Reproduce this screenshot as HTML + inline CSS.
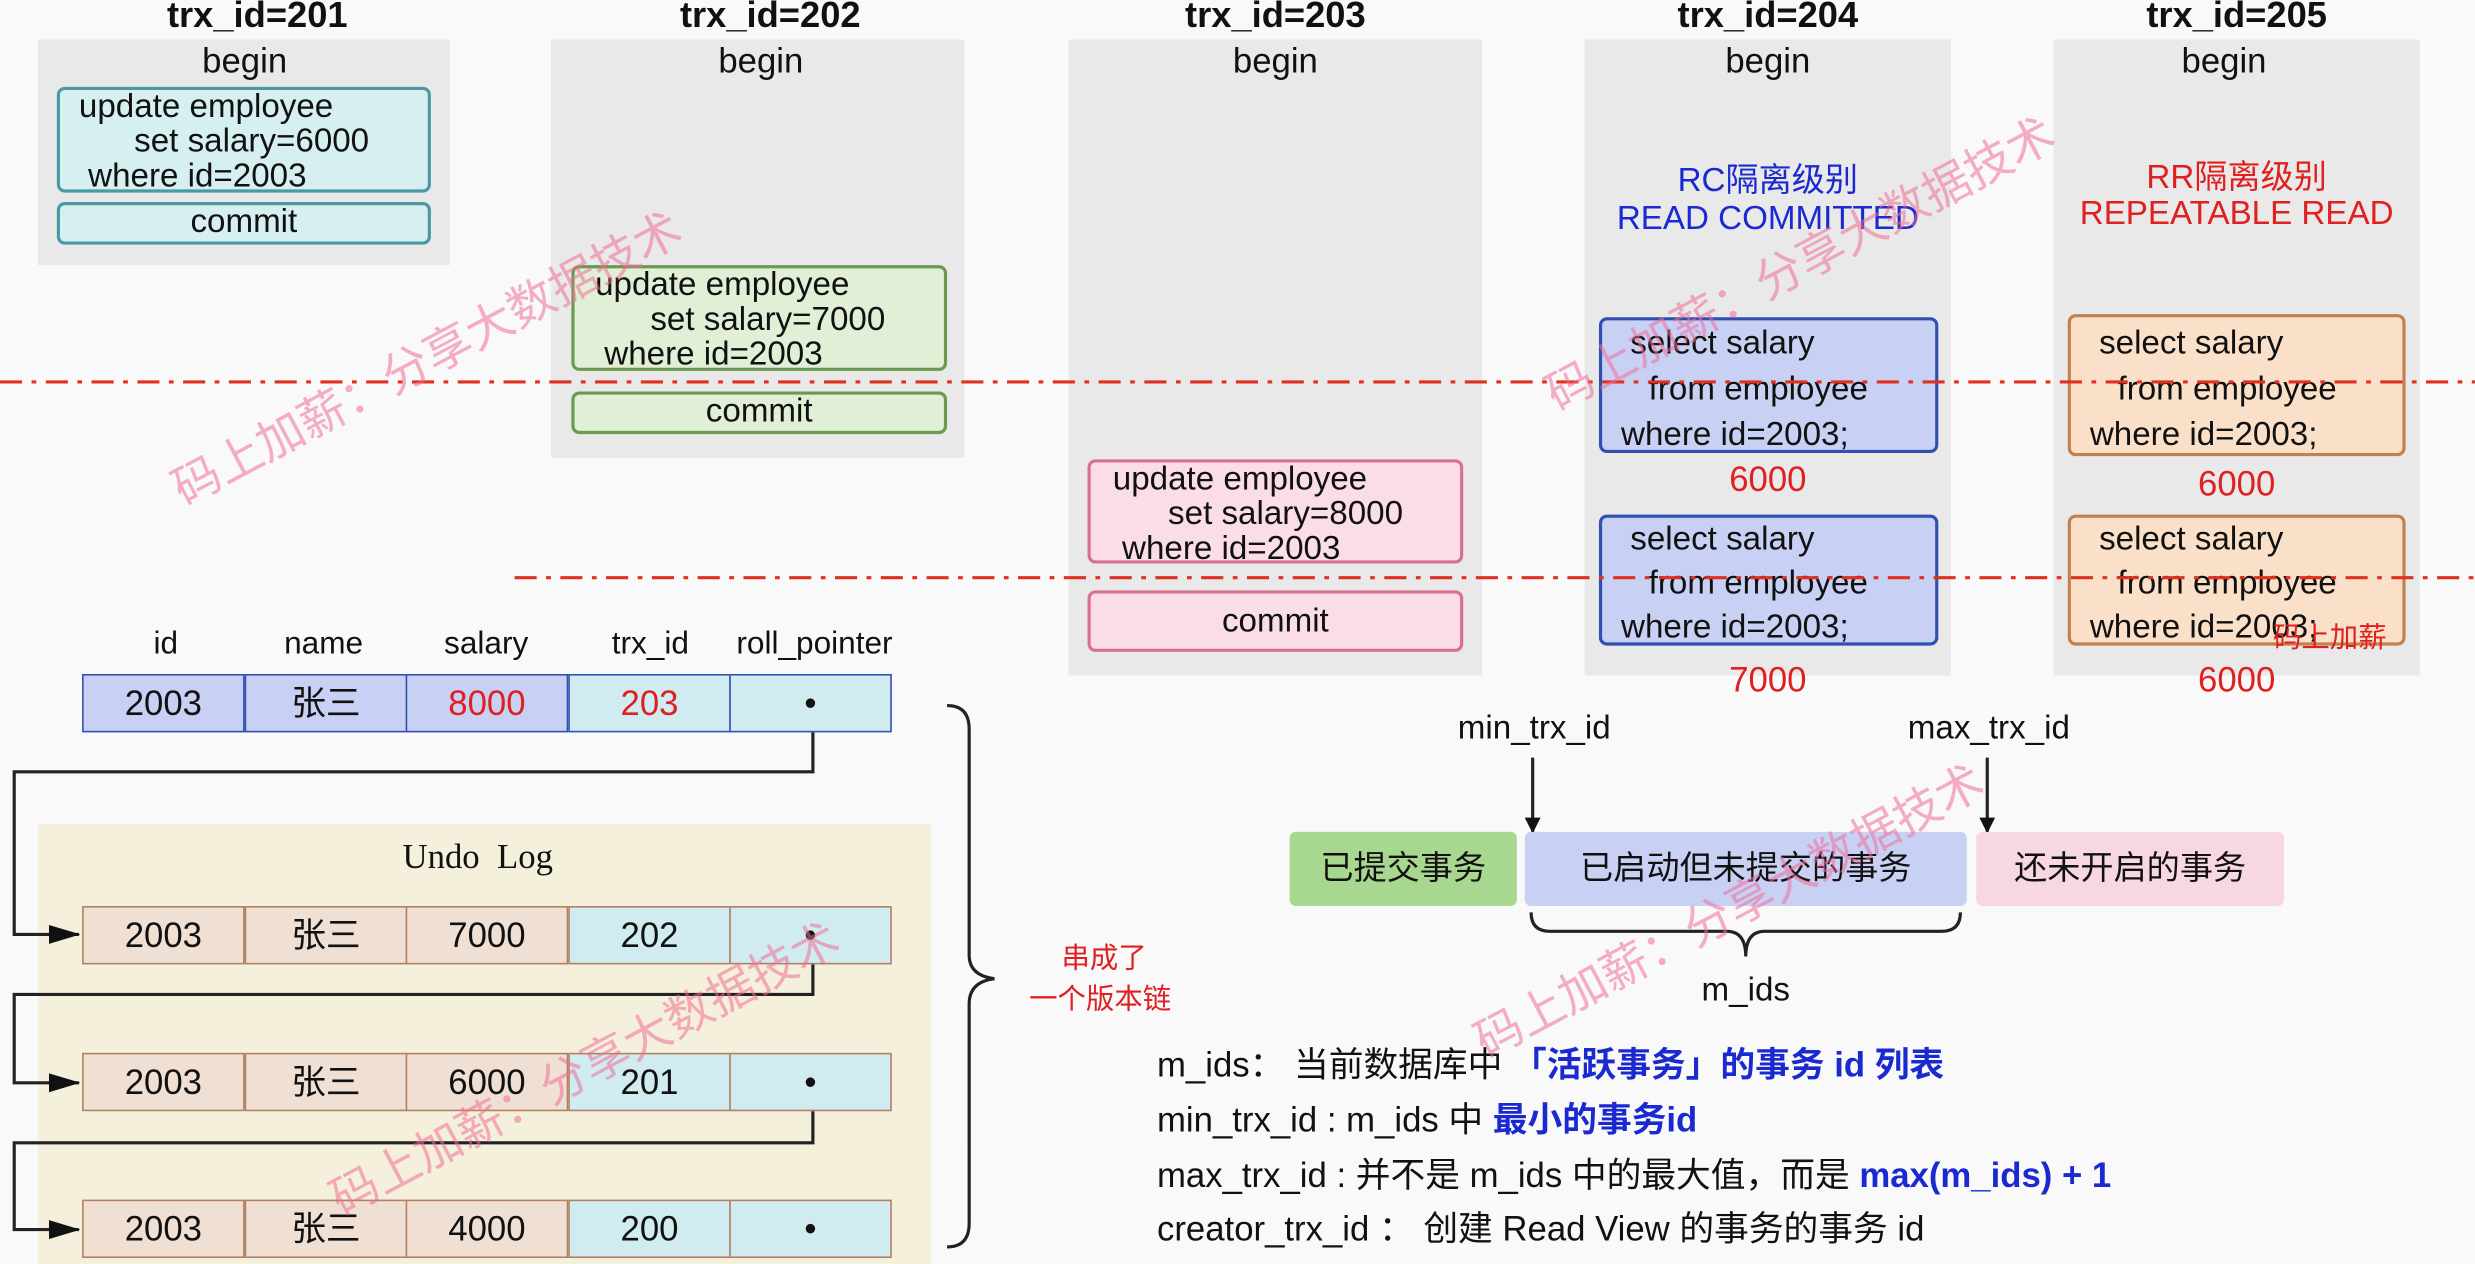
<!DOCTYPE html>
<html><head><meta charset="utf-8"><style>
html,body{margin:0;padding:0;width:2475px;height:1264px;overflow:hidden;background:#f9f9f9}
#s{position:absolute;left:0;top:0;width:1568px;height:801px;transform:scale(1.57844);transform-origin:0 0;font-family:"Liberation Sans","Noto Sans CJK SC",sans-serif;color:#111}
.a{position:absolute}
.p{position:absolute;background:#e9e9e9}
.h{position:absolute;font-weight:bold;font-size:23px;transform:translateX(-50%);top:-4px;white-space:nowrap}
.t{position:absolute;font-size:22px;transform:translateX(-50%);white-space:nowrap}
.b{position:absolute;box-sizing:border-box;border:2px solid;border-radius:5px;font-size:21px;line-height:22px}
.c{text-align:center}
.cell{position:absolute;box-sizing:border-box;border:1.5px solid #555;width:103px;height:37px;text-align:center;line-height:35px;font-size:22px}
.wm{position:absolute;color:rgba(240,110,150,.55);font-size:30px;white-space:nowrap;transform-origin:0 0}
.tx{position:absolute;font-size:22px;white-space:nowrap}
.bl{color:#1a2ad0;font-weight:bold}
</style></head><body><div id="s">
<div class="p" style="left:24px;top:25px;width:261px;height:143px"></div>
<div class="p" style="left:349px;top:25px;width:262px;height:265px"></div>
<div class="p" style="left:677px;top:25px;width:262px;height:403px"></div>
<div class="p" style="left:1004px;top:25px;width:232px;height:403px"></div>
<div class="p" style="left:1301px;top:25px;width:232px;height:403px"></div>

<div class="h" style="left:163px">trx_id=201</div>
<div class="h" style="left:488px">trx_id=202</div>
<div class="h" style="left:808px">trx_id=203</div>
<div class="h" style="left:1120px">trx_id=204</div>
<div class="h" style="left:1417px">trx_id=205</div>
<div class="t" style="left:155px;top:26px">begin</div>
<div class="t" style="left:482px;top:26px">begin</div>
<div class="t" style="left:808px;top:26px">begin</div>
<div class="t" style="left:1120px;top:26px">begin</div>
<div class="t" style="left:1409px;top:26px">begin</div>

<div class="b" style="left:36px;top:55px;width:237px;height:67px;background:#d6eff0;border-color:#4a9aa4;padding-left:12px">update employee<br>&nbsp;&nbsp;&nbsp;&nbsp;&nbsp;&nbsp;set salary=6000<br>&nbsp;where id=2003</div>
<div class="b c" style="left:36px;top:128px;width:237px;height:27px;background:#d6eff0;border-color:#4a9aa4">commit</div>
<div class="b" style="left:362px;top:168px;width:238px;height:67px;background:#e0efd6;border-color:#6a9a50;padding-left:13px">update employee<br>&nbsp;&nbsp;&nbsp;&nbsp;&nbsp;&nbsp;set salary=7000<br>&nbsp;where id=2003</div>
<div class="b c" style="left:362px;top:248px;width:238px;height:27px;background:#e0efd6;border-color:#6a9a50">commit</div>
<div class="b" style="left:689px;top:291px;width:238px;height:66px;background:#fadde6;border-color:#d87090;padding-left:14px">update employee<br>&nbsp;&nbsp;&nbsp;&nbsp;&nbsp;&nbsp;set salary=8000<br>&nbsp;where id=2003</div>
<div class="b c" style="left:689px;top:374px;width:238px;height:39px;background:#fadde6;border-color:#d87090;line-height:36px">commit</div>

<div class="t" style="left:1120px;top:98px;color:#1a2ad0;font-size:21px">RC隔离级别</div>
<div class="t" style="left:1120px;top:127px;color:#1a2ad0;font-size:21px">READ COMMITTED</div>
<div class="t" style="left:1417px;top:96px;color:#e02020;font-size:21px">RR隔离级别</div>
<div class="t" style="left:1417px;top:124px;color:#e02020;font-size:21px">REPEATABLE READ</div>

<div class="b" style="left:1013px;top:201px;width:215px;height:86px;background:#c8d0f4;border-color:#3050b0;line-height:29px;padding-left:12px">&nbsp;select salary<br>&nbsp;&nbsp;&nbsp;from employee<br>where id=2003;</div>
<div class="b" style="left:1013px;top:326px;width:215px;height:83px;background:#c8d0f4;border-color:#3050b0;line-height:28px;padding-left:12px">&nbsp;select salary<br>&nbsp;&nbsp;&nbsp;from employee<br>where id=2003;</div>
<div class="b" style="left:1310px;top:199px;width:214px;height:90px;background:#fae0c8;border-color:#c08050;line-height:29px;padding-left:12px;padding-top:2px">&nbsp;select salary<br>&nbsp;&nbsp;&nbsp;from employee<br>where id=2003;</div>
<div class="b" style="left:1310px;top:326px;width:214px;height:83px;background:#fae0c8;border-color:#c08050;line-height:28px;padding-left:12px">&nbsp;select salary<br>&nbsp;&nbsp;&nbsp;from employee<br>where id=2003;</div>
<div class="t" style="left:1120px;top:291px;color:#e02020">6000</div>
<div class="t" style="left:1120px;top:418px;color:#e02020">7000</div>
<div class="t" style="left:1417px;top:294px;color:#e02020">6000</div>
<div class="t" style="left:1417px;top:418px;color:#e02020">6000</div>

<svg class="a" style="left:0;top:0" width="1568" height="801">
<defs><marker id="ar" markerWidth="10" markerHeight="10" refX="9" refY="5" orient="auto" markerUnits="userSpaceOnUse"><path d="M0,0L10,5L0,10z" fill="#111"/></marker>
<marker id="ar2" markerWidth="20" markerHeight="12" refX="19" refY="6" orient="auto" markerUnits="userSpaceOnUse"><path d="M0,0L20,6L0,12z" fill="#111"/></marker></defs>
<line x1="0" y1="242" x2="1568" y2="242" stroke="#e03020" stroke-width="2" stroke-dasharray="14,6,3,6"/>
<line x1="326" y1="366" x2="1568" y2="366" stroke="#e03020" stroke-width="2" stroke-dasharray="14,6,3,6"/>
<rect x="24" y="522" width="566" height="279" fill="#f5f0dc"/>
<g fill="none" stroke="#222" stroke-width="2">
<path d="M515,446V489H9V592H50" marker-end="url(#ar2)"/>
<path d="M515,592V630H9V686H50" marker-end="url(#ar2)"/>
<path d="M515,686V724H9V779H50" marker-end="url(#ar2)"/>
<path d="M600,447Q614,447 614,462V605Q614,618 630,620Q614,622 614,636V775Q614,790 600,790"/>
<line x1="971" y1="480" x2="971" y2="527" marker-end="url(#ar)"/>
<line x1="1259" y1="480" x2="1259" y2="527" marker-end="url(#ar)"/>
<path d="M970,578Q970,590 982,590H1094Q1106,590 1106,606Q1106,590 1118,590H1230Q1242,590 1242,578"/>
</g>
</svg>

<div class="t" style="left:105px;top:397px;font-size:20px">id</div>
<div class="t" style="left:205px;top:397px;font-size:20px">name</div>
<div class="t" style="left:308px;top:397px;font-size:20px">salary</div>
<div class="t" style="left:412px;top:397px;font-size:20px">trx_id</div>
<div class="t" style="left:516px;top:397px;font-size:20px">roll_pointer</div>

<div class="cell" style="left:52px;top:427px;background:#c8d0f4;border-color:#3050b0">2003</div>
<div class="cell" style="left:155px;top:427px;background:#c8d0f4;border-color:#3050b0">张三</div>
<div class="cell" style="left:257px;top:427px;background:#c8d0f4;border-color:#3050b0;color:#e02020">8000</div>
<div class="cell" style="left:360px;top:427px;background:#d0ecf0;border-color:#3050b0;color:#e02020">203</div>
<div class="cell" style="left:462px;top:427px;background:#d0ecf0;border-color:#3050b0">•</div>

<div class="a" style="left:255px;top:530px;font-family:'Liberation Serif',serif;font-size:22px">Undo&nbsp; Log</div>

<div class="cell" style="left:52px;top:574px;background:#f0e0d4;border-color:#b08060">2003</div>
<div class="cell" style="left:155px;top:574px;background:#f0e0d4;border-color:#b08060">张三</div>
<div class="cell" style="left:257px;top:574px;background:#f0e0d4;border-color:#b08060">7000</div>
<div class="cell" style="left:360px;top:574px;background:#d0ecf0;border-color:#b08060">202</div>
<div class="cell" style="left:462px;top:574px;background:#d0ecf0;border-color:#b08060">•</div>
<div class="cell" style="left:52px;top:667px;background:#f0e0d4;border-color:#b08060">2003</div>
<div class="cell" style="left:155px;top:667px;background:#f0e0d4;border-color:#b08060">张三</div>
<div class="cell" style="left:257px;top:667px;background:#f0e0d4;border-color:#b08060">6000</div>
<div class="cell" style="left:360px;top:667px;background:#d0ecf0;border-color:#b08060">201</div>
<div class="cell" style="left:462px;top:667px;background:#d0ecf0;border-color:#b08060">•</div>
<div class="cell" style="left:52px;top:760px;background:#f0e0d4;border-color:#b08060">2003</div>
<div class="cell" style="left:155px;top:760px;background:#f0e0d4;border-color:#b08060">张三</div>
<div class="cell" style="left:257px;top:760px;background:#f0e0d4;border-color:#b08060">4000</div>
<div class="cell" style="left:360px;top:760px;background:#d0ecf0;border-color:#b08060">200</div>
<div class="cell" style="left:462px;top:760px;background:#d0ecf0;border-color:#b08060">•</div>

<div class="a" style="left:652px;top:594px;color:#e02020;font-size:18px;line-height:26px;text-align:center">&nbsp;串成了<br>一个版本链</div>

<div class="t" style="left:972px;top:450px;font-size:21px">min_trx_id</div>
<div class="t" style="left:1260px;top:450px;font-size:21px">max_trx_id</div>
<div class="a c" style="left:817px;top:527px;width:144px;height:47px;background:#a8d890;border-radius:4px;line-height:47px;font-size:21px">已提交事务</div>
<div class="a c" style="left:966px;top:527px;width:280px;height:47px;background:#c8d0f4;border-radius:4px;line-height:47px;font-size:21px">已启动但未提交的事务</div>
<div class="a c" style="left:1252px;top:527px;width:195px;height:47px;background:#f8d8e0;border-radius:4px;line-height:47px;font-size:21px">还未开启的事务</div>
<div class="t" style="left:1106px;top:616px;font-size:21px">m_ids</div>

<div class="tx" style="left:733px;top:657px">m_ids： 当前数据库中 <span class="bl">「活跃事务」的事务 id 列表</span></div>
<div class="tx" style="left:733px;top:692px">min_trx_id : m_ids 中 <span class="bl">最小的事务id</span></div>
<div class="tx" style="left:733px;top:727px">max_trx_id : 并不是 m_ids 中的最大值，而是 <span class="bl">max(m_ids) + 1</span></div>
<div class="tx" style="left:733px;top:761px">creator_trx_id ： 创建 Read View 的事务的事务 id</div>

<div class="wm" style="left:100px;top:290px;transform:rotate(-28deg)">码上加薪：分享大数据技术</div>
<div class="wm" style="left:200px;top:740px;transform:rotate(-28deg)">码上加薪：分享大数据技术</div>
<div class="wm" style="left:970px;top:230px;transform:rotate(-28deg)">码上加薪：分享大数据技术</div>
<div class="wm" style="left:925px;top:640px;transform:rotate(-28deg)">码上加薪：分享大数据技术</div>
<div class="a" style="left:1440px;top:390px;color:#e02020;font-size:18px">码上加薪</div>
</div></body></html>
